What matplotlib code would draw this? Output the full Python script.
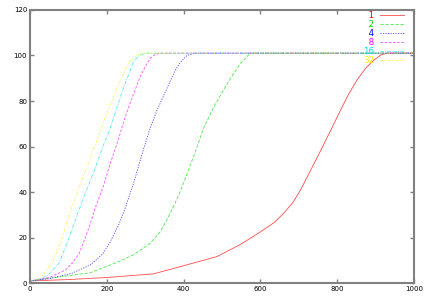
import matplotlib
matplotlib.use("Agg")
from matplotlib import pyplot as plt

# series (x, percentage)
labels = ["1", "2", "4", "8", "16", "32"]

x_1 = [0, 100, 200, 322, 392, 487, 548, 601, 635, 661, 685, 705, 749, 783, 809, 830, 853, 875, 896, 915, 931, 1000]
y_1 = [1, 1.6, 2.5, 4.1, 7.3, 11.7, 17, 22.6, 26.5, 30.7, 35.5, 41, 55.5, 67, 76, 83, 89.5, 94.5, 98, 100.3, 101, 101]

x_2 = [0, 84, 157, 232, 270, 313, 339, 357, 375, 392, 426, 452, 479, 514, 548, 574, 1000]
y_2 = [1, 2.9, 4.6, 9.5, 12.5, 17.5, 22.5, 28, 34, 40.5, 55.5, 68, 77.5, 87.7, 96.5, 101, 101]

x_4 = [0, 50, 110, 128, 157, 171, 190, 207, 232, 244, 270, 296, 313, 331, 350, 366, 380, 392, 409, 430, 1000]
y_4 = [1, 2, 4.4, 5.8, 8, 10, 13, 17.5, 26, 31, 44, 59, 68, 76, 83, 89, 94, 97, 100, 101, 101]

x_8 = [0, 50, 93, 110, 128, 145, 157, 171, 190, 208, 232, 244, 265, 287, 300, 313, 325, 339, 1000]
y_8 = [1, 2.5, 5.8, 8.8, 13, 20.4, 26, 33.6, 42, 52, 64, 71, 81, 90.6, 95, 98.7, 100.3, 101, 101]

x_16 = [0, 25, 50, 76, 102, 137, 157, 171, 190, 209, 232, 244, 258, 270, 285, 300, 1000]
y_16 = [1, 1.5, 4, 8.8, 20, 36.5, 45, 51, 60, 68, 80, 86, 92, 97.5, 100, 101, 101]

x_32 = [0, 25, 58, 84, 110, 137, 157, 171, 190, 206, 232, 244, 258, 270, 292, 1000]
y_32 = [1, 2, 8.8, 20, 34, 46, 55, 61, 70, 77, 87.5, 92, 96.5, 99.3, 101, 101]

xs = [x_1, x_2, x_4, x_8, x_16, x_32]
ys = [y_1, y_2, y_4, y_8, y_16, y_32]
colors = ["#ff0000", "#00e000", "#0000ff", "#ff00ff", "#00e0e0", "#f0f000"]
styles = ["-", (0, (4, 2)), (0, (1.5, 1.5)), (0, (3, 2)), (0, (4, 1.5, 1, 1.5)), (0, (3, 1.5, 1, 1.5, 1, 1.5))]

fig, ax = plt.subplots(figsize=(4.28, 3.0), dpi=100)
fig.subplots_adjust(left=0.070, right=0.967, bottom=0.056, top=0.967)

for lab, x, y, c, ls in zip(labels, xs, ys, colors, styles):
    ax.plot(x, y, color=c, linestyle=ls, linewidth=0.6, alpha=0.7,
            label="\u2007" * (2 - len(lab)) + lab)

ax.set_xlim(0, 1000)
ax.set_ylim(0, 120)
ax.set_xticks(range(0, 1001, 200))
ax.set_yticks(range(0, 121, 20))
ax.tick_params(direction="in", top=True, right=True, labelsize=5,
               length=3, width=1, color="#808080", pad=2)
for sp in ax.spines.values():
    sp.set_color("#808080")
    sp.set_linewidth(1.5)

leg = ax.legend(loc="upper right", bbox_to_anchor=(0.977, 1.0), frameon=False,
                markerfirst=False, fontsize=6.3, labelspacing=0,
                handlelength=2.8, handletextpad=0.6, borderaxespad=0,
                borderpad=0.1, labelcolor="linecolor")
for line in leg.get_lines():
    line.set_alpha(0.7)
    line.set_linewidth(0.6)
for t, c in zip(leg.get_texts(), colors):
    t.set_color(c)
    t.set_alpha(1)

plt.savefig("out.png", dpi=100)
